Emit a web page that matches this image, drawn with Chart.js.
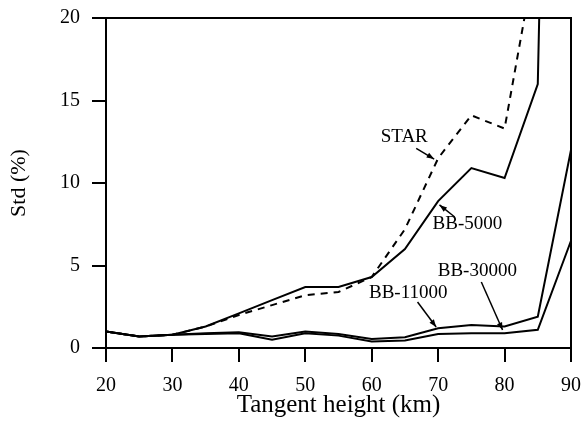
<!DOCTYPE html>
<html>
<head>
<meta charset="utf-8">
<script src="https://cdn.jsdelivr.net/npm/chart.js@4/dist/chart.umd.min.js"></script>
<style>
  html, body { margin: 0; padding: 0; background: #fff; }
  #wrap { width: 585px; height: 426px; }
</style>
</head>
<body>
<div id="wrap"><canvas id="myChart" width="585" height="426"></canvas></div>
<script>
// tangent heights (km)
const heights = [20, 25, 30, 35, 40, 45, 50, 55, 60, 65, 70, 75, 80, 85, 90];

// std (%) per series (last points run off the top)
const star    = [1.0, 0.7, 0.8, 1.3, 2.0, 2.6, 3.2, 3.4, 4.3, 7.2, 11.5, 14.1, 13.3, 24.5, 60];
const bb5000  = [1.0, 0.7, 0.8, 1.3, 2.1, 2.9, 3.7, 3.7, 4.3, 6.0, 8.9, 10.9, 10.3, 16.0, 110];
const bb11000 = [1.0, 0.7, 0.8, 0.9, 0.95, 0.7, 1.0, 0.85, 0.55, 0.65, 1.2, 1.4, 1.3, 1.9, 12.0];
const bb30000 = [1.0, 0.7, 0.8, 0.85, 0.9, 0.5, 0.9, 0.75, 0.4, 0.45, 0.85, 0.9, 0.9, 1.1, 6.5];

const xTicks = [20, 30, 40, 50, 60, 70, 80, 90];
const yTicks = [0, 5, 10, 15, 20];

// curve labels: text, label centre, arrow start, arrow tip (data units)
const noteText = ["STAR", "BB-5000", "BB-30000", "BB-11000"];
const noteAt   = [[64.9, 12.8], [74.4, 7.5], [75.9, 4.67], [65.5, 3.33]];
const arrowFrom = [[66.7, 12.1], [72.5, 7.94], [76.5, 4.0], [66.9, 2.79]];
const arrowTo   = [[69.4, 11.45], [70.2, 8.67], [79.7, 1.09], [69.7, 1.27]];

const serif = "'Liberation Serif', 'DejaVu Serif', serif";

function pts(arr) {
  return heights.map((h, i) => ({ x: h, y: arr[i] }));
}

function series(label, arr, dashed) {
  return {
    label: label,
    data: pts(arr),
    borderColor: "#000",
    borderWidth: 2,
    borderDash: dashed ? [7, 6] : [],
    pointRadius: 0,
    tension: 0,
    fill: false
  };
}

// top/right frame lines and the curve labels with arrows
const extras = {
  id: "extras",
  afterDatasetsDraw(chart) {
    const { ctx, chartArea: a, scales: { x, y } } = chart;
    ctx.save();
    ctx.strokeStyle = "#000";
    ctx.lineWidth = 2;
    ctx.beginPath();
    ctx.moveTo(a.left, a.top);
    ctx.lineTo(a.right, a.top);
    ctx.lineTo(a.right, a.bottom);
    ctx.stroke();

    ctx.fillStyle = "#000";
    ctx.font = "19px " + serif;
    ctx.textAlign = "center";
    ctx.textBaseline = "middle";
    noteText.forEach((t, i) => {
      ctx.fillText(t, x.getPixelForValue(noteAt[i][0]), y.getPixelForValue(noteAt[i][1]));
      const x0 = x.getPixelForValue(arrowFrom[i][0]), y0 = y.getPixelForValue(arrowFrom[i][1]);
      const x1 = x.getPixelForValue(arrowTo[i][0]), y1 = y.getPixelForValue(arrowTo[i][1]);
      ctx.lineWidth = 1.5;
      ctx.beginPath();
      ctx.moveTo(x0, y0);
      ctx.lineTo(x1, y1);
      ctx.stroke();
      const ang = Math.atan2(y1 - y0, x1 - x0);
      ctx.beginPath();
      ctx.moveTo(x1, y1);
      ctx.lineTo(x1 - 8 * Math.cos(ang - 0.35), y1 - 8 * Math.sin(ang - 0.35));
      ctx.lineTo(x1 - 8 * Math.cos(ang + 0.35), y1 - 8 * Math.sin(ang + 0.35));
      ctx.closePath();
      ctx.fill();
    });
    ctx.restore();
  }
};

new Chart(document.getElementById("myChart"), {
  type: "line",
  data: {
    datasets: [
      series("STAR", star, true),
      series("BB-5000", bb5000, false),
      series("BB-11000", bb11000, false),
      series("BB-30000", bb30000, false)
    ]
  },
  options: {
    responsive: false,
    animation: false,
    layout: { padding: { top: 18, right: 14, left: 0, bottom: 0 } },
    plugins: { legend: { display: false }, tooltip: { enabled: false } },
    scales: {
      x: {
        type: "linear",
        min: 20,
        max: 90,
        afterBuildTicks: (s) => { s.ticks = xTicks.map(v => ({ value: v })); },
        afterFit: (s) => { s.height = 78; s.paddingLeft = 0; s.paddingRight = 0; },
        border: { display: true, color: "#000", width: 2 },
        grid: { drawOnChartArea: false, color: "#000", lineWidth: 2, tickLength: 14 },
        ticks: { color: "#000", font: { family: serif, size: 20 }, padding: 12, maxRotation: 0 },
        title: {
          display: true,
          text: "Tangent height (km)",
          color: "#000",
          font: { family: serif, size: 25 },
          padding: { top: 2, bottom: 6 }
        }
      },
      y: {
        min: 0,
        max: 20,
        afterBuildTicks: (s) => { s.ticks = yTicks.map(v => ({ value: v })); },
        afterFit: (s) => { s.width = 106; s.paddingTop = 0; s.paddingBottom = 0; },
        border: { display: true, color: "#000", width: 2 },
        grid: { drawOnChartArea: false, color: "#000", lineWidth: 2, tickLength: 14 },
        ticks: { color: "#000", font: { family: serif, size: 20 }, padding: 12 },
        title: {
          display: true,
          text: "Std (%)",
          color: "#000",
          font: { family: serif, size: 22 },
          padding: { top: 6, bottom: 0 }
        }
      }
    }
  },
  plugins: [extras]
});
</script>
</body>
</html>
